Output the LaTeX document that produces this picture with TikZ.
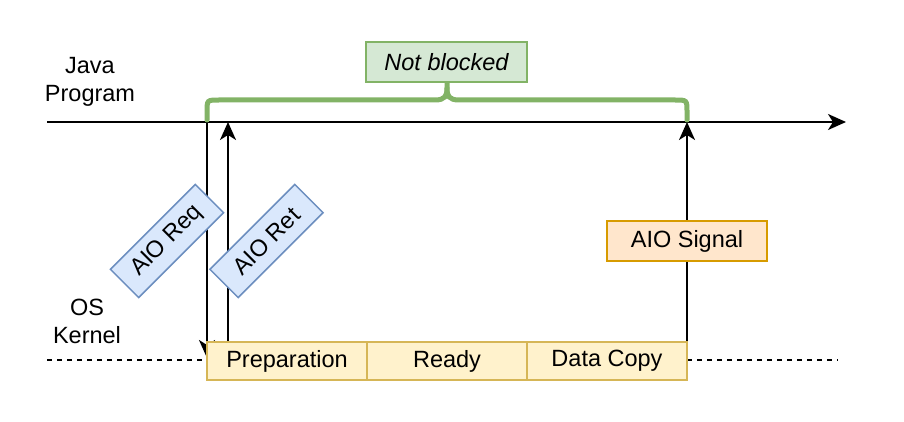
\documentclass[tikz,border=0pt]{standalone}
\usepackage{fontspec}
\setmainfont{Liberation Sans}
\usetikzlibrary{arrows.meta}
\definecolor{procfill}{HTML}{FFF2CC}
\definecolor{procline}{HTML}{D6B656}
\definecolor{reqfill}{HTML}{DAE8FC}
\definecolor{reqline}{HTML}{6C8EBF}
\definecolor{sigfill}{HTML}{FFE6CC}
\definecolor{sigline}{HTML}{D79B00}
\definecolor{nbfill}{HTML}{D5E8D4}
\definecolor{nbline}{HTML}{82B366}
\tikzset{
  proc/.style={draw=procline, fill=procfill, line width=1.5pt, minimum width=160pt, minimum height=38pt, inner sep=0pt},
  reqbox/.style={draw=reqline, fill=reqfill, line width=1.5pt, minimum width=120pt, minimum height=40pt, inner sep=0pt, rotate=45},
  sigbox/.style={draw=sigline, fill=sigfill, line width=1.5pt, minimum width=160pt, minimum height=40pt, inner sep=0pt},
  nbbox/.style={draw=nbline, fill=nbfill, line width=1.5pt, minimum width=161pt, minimum height=40pt, inner sep=0pt, font=\fontsize{23.5}{28}\selectfont\itshape},
  lbl/.style={align=center, inner sep=0pt},
  arr/.style={line width=2pt, -{Stealth[length=18pt,width=16pt,inset=5pt]}},
  brace/.style={draw=nbline, line width=5pt, line cap=round},
}
\begin{document}
\begin{tikzpicture}[x=1pt,y=-1pt, font=\fontsize{23.5}{28}\selectfont]
\useasboundingbox (0,0) rectangle (904,422);
% timelines
\coordinate (tl0) at (47,122);
\coordinate (tl1) at (846,122);
\coordinate (dl0) at (47,360);
\coordinate (dl1) at (838,360);
\draw[line width=1.5pt, dash pattern=on 5pt off 5pt] (dl0) -- (dl1);
\draw[arr] (tl0) -- (tl1);
% vertical arrows
\coordinate (reqtop) at (207,122);
\coordinate (reqend) at (207,358);
\coordinate (rettop) at (228,122);
\coordinate (retbot) at (228,342);
\coordinate (sigtop) at (687,122);
\coordinate (sigbot) at (687,342);
\draw[arr] (reqtop) -- (reqend);
\draw[arr] (retbot) -- (rettop);
\draw[arr] (sigbot) -- (sigtop);
% brace
\coordinate (bl) at (207,120);
\coordinate (br) at (687,120);
\coordinate (bm) at (447,82);
\draw[brace] (bl) -- (207,112) .. controls (207,100) .. (219,100) -- (435,100)
  .. controls (445,100) and (447,96) .. (447,88) -- (bm);
\draw[brace] (br) -- (687,112) .. controls (687,100) .. (675,100) -- (459,100)
  .. controls (449,100) and (447,96) .. (447,88);
% process boxes
\node[proc] (prep) at (287,361) {Preparation};
\node[proc] (ready) at (447,361) {Ready};
\node[proc] (copy) at (607,361) {Data Copy};
% labels
\node[nbbox] (nb) at (446.5,62) {Not blocked};
\node[reqbox] (req) at (167,241) {AIO Req};
\node[reqbox] (ret) at (266.5,241) {AIO Ret};
\node[sigbox] (sig) at (687,241) {AIO Signal};
\node[lbl] (java) at (90,82) {Java\\Program};
\node[lbl] (os) at (87,321) {OS\\Kernel};
\end{tikzpicture}
\end{document}
